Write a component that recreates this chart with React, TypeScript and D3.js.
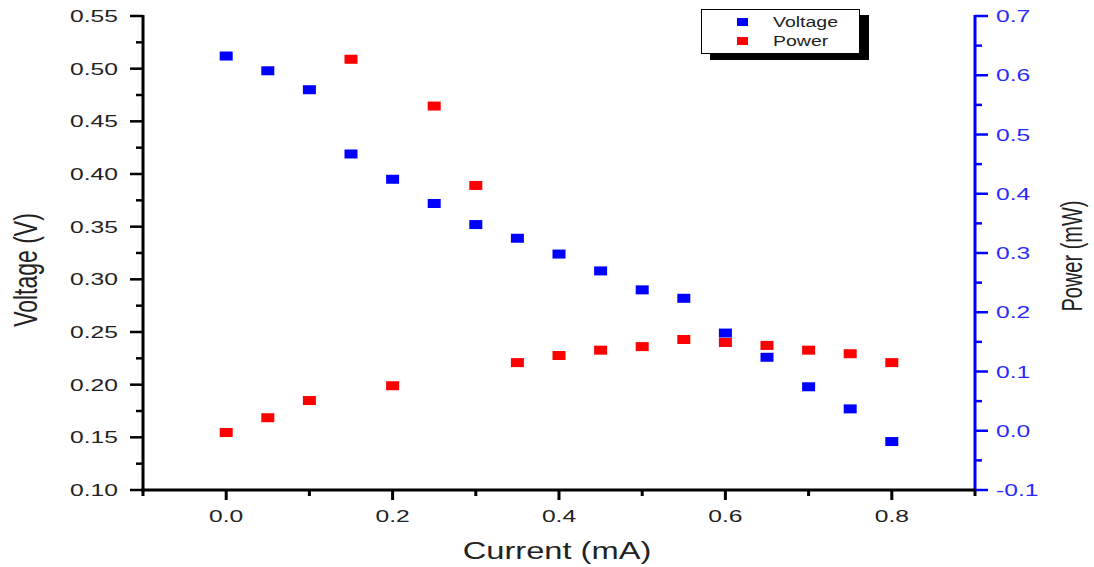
import React, { useRef, useEffect } from 'react';
import * as d3 from 'd3';

// data
const current = [0, 0.05, 0.1, 0.15, 0.2, 0.25, 0.3, 0.35, 0.4, 0.45, 0.5, 0.55, 0.6, 0.65, 0.7, 0.75, 0.8];
const voltage = [0.512, 0.498, 0.480, 0.419, 0.395, 0.372, 0.352, 0.339, 0.324, 0.308, 0.290, 0.282, 0.249, 0.226, 0.198, 0.177, 0.146];
const power = [-0.003, 0.022, 0.051, 0.627, 0.076, 0.548, 0.414, 0.115, 0.127, 0.136, 0.142, 0.154, 0.149, 0.144, 0.136, 0.130, 0.115];

const currentTicks = [0.0, 0.2, 0.4, 0.6, 0.8];
const currentMinor = [-0.1, 0.1, 0.3, 0.5, 0.7, 0.9];
const voltageTicks = [0.10, 0.15, 0.20, 0.25, 0.30, 0.35, 0.40, 0.45, 0.50, 0.55];
const powerTicks = [-0.1, 0.0, 0.1, 0.2, 0.3, 0.4, 0.5, 0.6, 0.7];

const seriesNames = ['Voltage', 'Power'];
const seriesColors = ['#0000ff', '#ff0000'];

const W = 1094;
const H = 567;
const FONT = '"Liberation Sans", Arial, sans-serif';
const SX = 1.45; // the original is stretched sideways

export default function App() {
  const ref = useRef<SVGSVGElement>(null);

  useEffect(() => {
    if (!ref.current) return;
    const svg = d3.select(ref.current);
    svg.selectAll('*').remove();

    const left = 143, right = 975, top = 16, bottom = 490;

    const x = d3.scaleLinear().domain([-0.1, 0.9]).range([left, right]);
    const yV = d3.scaleLinear().domain([0.10, 0.55]).range([bottom, top]);
    const yP = d3.scaleLinear().domain([-0.1, 0.7]).range([bottom, top]);

    // stretched text helper
    const label = (g: any, tx: number, ty: number, txt: string, opts: any) => {
      const gg = g.append('g').attr('transform', `translate(${tx},${ty}) scale(${opts.sx ?? SX},1)${opts.rot ? ' rotate(' + opts.rot + ')' : ''}`);
      gg.append('text')
        .attr('text-anchor', opts.anchor ?? 'middle')
        .attr('dy', opts.dy ?? '0')
        .attr('font-family', FONT)
        .attr('font-size', opts.size)
        .attr('fill', opts.fill ?? '#222')
        .text(txt);
    };

    const mids = (arr: number[]) => arr.slice(0, -1).map((v, i) => (v + arr[i + 1]) / 2);

    // left axis (voltage)
    const gl = svg.append('g');
    voltageTicks.forEach(v => {
      gl.append('line').attr('x1', left - 13).attr('x2', left).attr('y1', yV(v)).attr('y2', yV(v))
        .attr('stroke', '#000').attr('stroke-width', 2.5);
      label(gl, left - 25, yV(v), v.toFixed(2), { anchor: 'end', dy: '0.36em', size: 17 });
    });
    mids(voltageTicks).forEach(v => {
      gl.append('line').attr('x1', left - 7).attr('x2', left).attr('y1', yV(v)).attr('y2', yV(v))
        .attr('stroke', '#000').attr('stroke-width', 2.5);
    });
    gl.append('line').attr('x1', left).attr('x2', left).attr('y1', top - 1).attr('y2', bottom + 1.5)
      .attr('stroke', '#000').attr('stroke-width', 3);

    // right axis (power)
    const gr = svg.append('g');
    powerTicks.forEach(v => {
      gr.append('line').attr('x1', right).attr('x2', right + 13).attr('y1', yP(v)).attr('y2', yP(v))
        .attr('stroke', '#0000ff').attr('stroke-width', 2.5);
      label(gr, right + 21, yP(v), v.toFixed(1), { anchor: 'start', dy: '0.36em', size: 17, fill: '#2a2aff' });
    });
    mids(powerTicks).forEach(v => {
      gr.append('line').attr('x1', right).attr('x2', right + 7).attr('y1', yP(v)).attr('y2', yP(v))
        .attr('stroke', '#0000ff').attr('stroke-width', 2.5);
    });
    gr.append('line').attr('x1', right).attr('x2', right).attr('y1', top - 1).attr('y2', bottom + 1.5)
      .attr('stroke', '#0000ff').attr('stroke-width', 3);

    // bottom axis (current)
    const gb = svg.append('g');
    gb.append('line').attr('x1', left - 1.5).attr('x2', right).attr('y1', bottom).attr('y2', bottom)
      .attr('stroke', '#000').attr('stroke-width', 3);
    currentTicks.forEach(v => {
      gb.append('line').attr('x1', x(v)).attr('x2', x(v)).attr('y1', bottom).attr('y2', bottom + 10)
        .attr('stroke', '#000').attr('stroke-width', 3);
      label(gb, x(v), bottom + 32, v.toFixed(1), { size: 17 });
    });
    currentMinor.forEach(v => {
      gb.append('line').attr('x1', x(v)).attr('x2', x(v)).attr('y1', bottom).attr('y2', bottom + 6)
        .attr('stroke', '#000').attr('stroke-width', 3);
    });

    // axis titles
    label(svg, 557, 559, 'Current (mA)', { size: 23, sx: 1.42 });
    label(svg, 25, 270, 'Voltage (V)', { size: 23, rot: -90, dy: '0.35em' });
    label(svg, 1072, 256, 'Power (mW)', { size: 20, rot: -90, dy: '0.35em' });

    // markers
    const mw = 13, mh = 9;
    svg.append('g').selectAll('rect').data(current).enter().append('rect')
      .attr('x', (d: number) => x(d) - mw / 2)
      .attr('y', (_d: number, i: number) => yV(voltage[i]) - mh / 2)
      .attr('width', mw).attr('height', mh).attr('fill', seriesColors[0]);
    svg.append('g').selectAll('rect').data(current).enter().append('rect')
      .attr('x', (d: number) => x(d) - mw / 2)
      .attr('y', (_d: number, i: number) => yP(power[i]) - mh / 2)
      .attr('width', mw).attr('height', mh).attr('fill', seriesColors[1]);

    // legend
    const lg = svg.append('g');
    lg.append('rect').attr('x', 710).attr('y', 15).attr('width', 159).attr('height', 45).attr('fill', '#000');
    lg.append('rect').attr('x', 701.5).attr('y', 9.5).attr('width', 158).attr('height', 44)
      .attr('fill', '#fff').attr('stroke', '#000').attr('stroke-width', 1);
    seriesNames.forEach((name, i) => {
      const cy = 22 + i * 19;
      lg.append('rect').attr('x', 737).attr('y', cy - 4).attr('width', 11).attr('height', 8).attr('fill', seriesColors[i]);
      label(lg, 773, cy, name, { anchor: 'start', dy: '0.36em', size: 15, sx: 1.3 });
    });
  }, []);

  return (
    <svg
      ref={ref}
      width={W}
      height={H}
      style={{ position: 'absolute', left: 0, top: 0, background: '#fff' }}
    />
  );
}
